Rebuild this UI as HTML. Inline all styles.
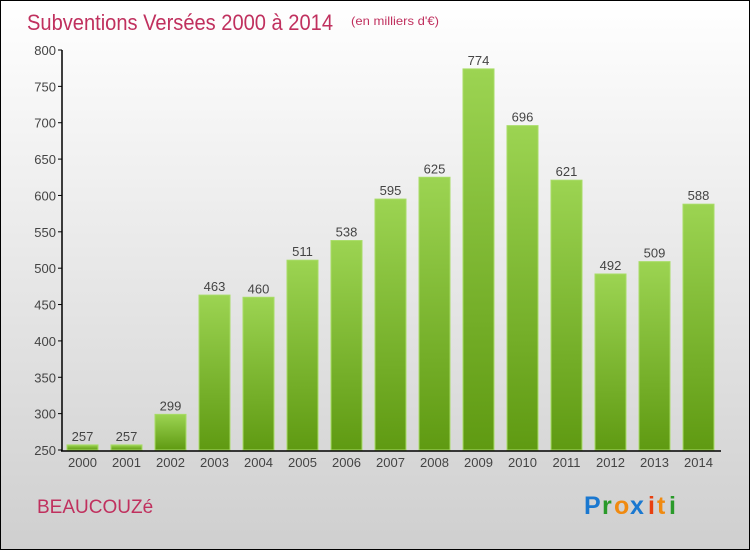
<!DOCTYPE html>
<html><head><meta charset="utf-8"><style>
body{margin:0}
#c{position:relative;width:748px;height:548px;border:1px solid #000;background:linear-gradient(#ffffff,#cfcfcf);overflow:hidden;font-family:"Liberation Sans",sans-serif}
</style></head><body>
<div id="c">
<svg id="s" width="748" height="548" style="position:absolute;left:0;top:0">
<defs><linearGradient id="g" x1="0" y1="0" x2="0" y2="1"><stop offset="0" stop-color="#9cd452"/><stop offset="1" stop-color="#5f9a12"/></linearGradient></defs>
<text x="26" y="29" font-size="22" fill="#c0305e" textLength="306" lengthAdjust="spacingAndGlyphs">Subventions Versées 2000 à 2014</text>
<text x="350" y="24" font-size="12" fill="#c0305e" textLength="88" lengthAdjust="spacingAndGlyphs">(en milliers d'€)</text>
<text x="36" y="512" font-size="19" fill="#c0305e">BEAUCOUZé</text>
<g font-size="25" font-weight="bold" font-family="Liberation Sans, sans-serif">
<text x="583" y="513" fill="#1a78d0">P</text><text x="601" y="513" fill="#2a9a2a">r</text><text x="613" y="513" fill="#f08a10">o</text><text x="629" y="513" fill="#1a78d0">x</text><text x="647" y="513" fill="#e84010">i</text><text x="656" y="513" fill="#f08a10">t</text><text x="668" y="513" fill="#2a9a2a">i</text>
</g>
</svg>
</div>
<script>
const years=["2000","2001","2002","2003","2004","2005","2006","2007","2008","2009","2010","2011","2012","2013","2014"];
const values=[257,257,299,463,460,511,538,595,625,774,696,621,492,509,588];
const yTicks=[250,300,350,400,450,500,550,600,650,700,750,800];
const s=document.getElementById('s');
const NS="http://www.w3.org/2000/svg";
function y(v){return 449-(v-250)*400/550;}
function x(i){return 66+i*44;}
function mk(t,a){const e=document.createElementNS(NS,t);for(const k in a)e.setAttribute(k,a[k]);s.appendChild(e);return e;}
yTicks.forEach(v=>{
 const l=mk('line',{x1:57,x2:61,y1:y(v),y2:y(v),stroke:'#000'});
 
 
 const t=mk('text',{x:55,y:y(v)+5,'font-size':13,'text-anchor':'end',fill:'#444'});
 t.textContent=v;
 
 
});
values.forEach((v,i)=>{
 const r=mk('rect',{x:x(i),y:y(v),width:31,height:y(250)-y(v),fill:'url(#g)',stroke:'#a8dc66','stroke-width':1});
 
 
 const t=mk('text',{x:x(i)+15.5,y:y(v)-4,'font-size':13,'text-anchor':'middle',fill:'#444'});
 t.textContent=v;
 
 
 const xl=mk('text',{x:x(i)+15.5,y:466,'font-size':13,'text-anchor':'middle',fill:'#444'});
 xl.textContent=years[i];
 
 
});
const ya=mk('line',{x1:61,x2:61,y1:y(800),y2:450,stroke:'#000','stroke-width':1.5});


const xa=mk('line',{x1:60,x2:720,y1:450,y2:450,stroke:'#000','stroke-width':1.5});


</script>
</body></html>
